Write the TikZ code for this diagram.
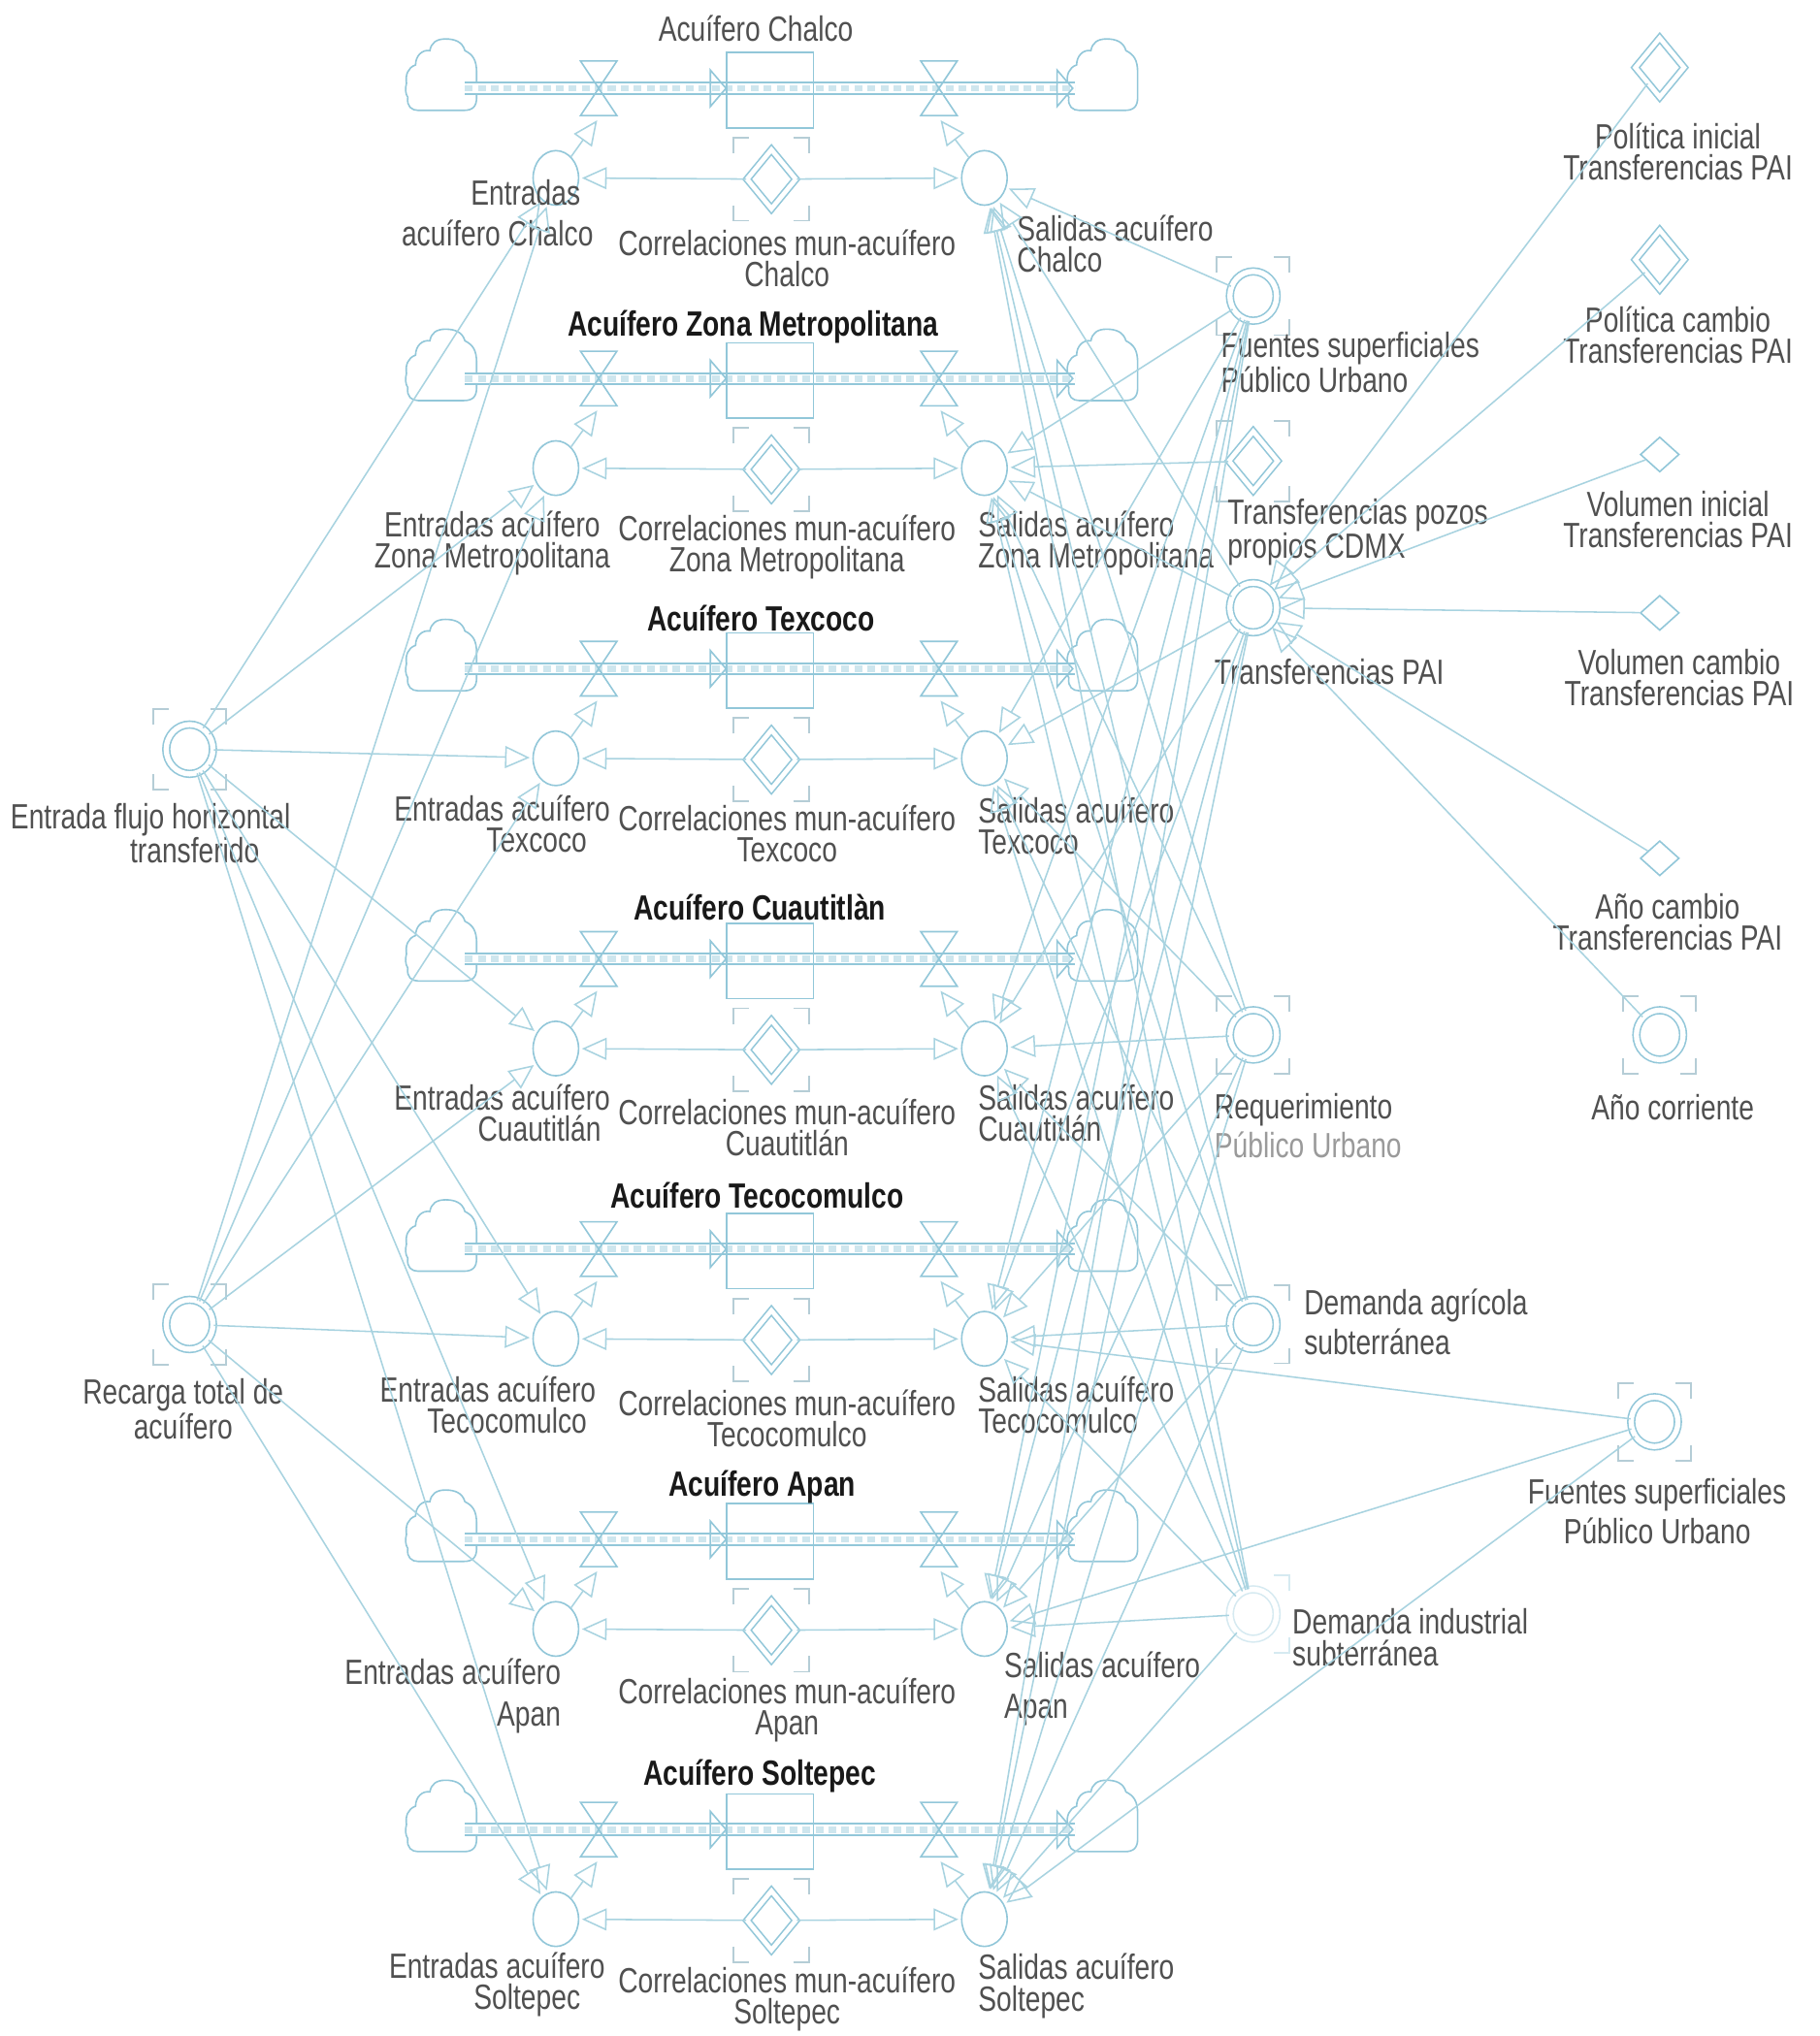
\documentclass[tikz,border=0pt]{standalone}
\usepackage{fontspec}
\setmainfont{Liberation Sans}[FakeStretch=0.78]
\usetikzlibrary{shapes.geometric,arrows.meta,calc}
\definecolor{lc}{HTML}{A8D3E0}
\definecolor{pc}{HTML}{92C7D9}
\definecolor{bc}{HTML}{B5CDD6}
\definecolor{tc}{HTML}{505050}
\definecolor{lt}{HTML}{9A9A9A}
\definecolor{fd}{HTML}{D6EAF1}
\newcommand{\cornerbox}[4]{%
 \draw[bc,line width=1.3pt] (#1-#3,#2-#4+12) -- (#1-#3,#2-#4) -- (#1-#3+12,#2-#4);
 \draw[bc,line width=1.3pt] (#1+#3-12,#2-#4) -- (#1+#3,#2-#4) -- (#1+#3,#2-#4+12);
 \draw[bc,line width=1.3pt] (#1-#3,#2+#4-12) -- (#1-#3,#2+#4) -- (#1-#3+12,#2+#4);
 \draw[bc,line width=1.3pt] (#1+#3-12,#2+#4) -- (#1+#3,#2+#4) -- (#1+#3,#2+#4-12);}
\tikzset{
 link/.style={draw=lc, line width=1.15pt, shorten >=2pt, -{Triangle[open,length=19pt,width=17pt]}},
 aux/.style={ellipse, draw=pc, line width=1.2pt, minimum width=35pt, minimum height=42pt, inner sep=0pt},
 conv/.style={ellipse, draw=pc, line width=1.2pt, double=white, double distance=4pt, minimum width=36pt, minimum height=38pt, inner sep=0pt},
 cdiam/.style={diamond, draw=pc, line width=1.2pt, double=white, double distance=3.5pt, minimum width=38pt, minimum height=46pt, inner sep=0pt},
 sdiam/.style={diamond, draw=pc, line width=1.2pt, minimum width=30pt, minimum height=27pt, inner sep=0pt},
 stockbox/.style={rectangle, draw=pc, line width=1.2pt, minimum width=67pt, minimum height=58pt, inner sep=0pt},
 shp/.style={draw=pc, line width=1.2pt, line join=miter},
 pipeout/.style={draw=pc, line width=10pt},
 pipemid/.style={draw=white, line width=7pt},
 pipein/.style={draw=pc!45, line width=5pt, dash pattern=on 6pt off 4pt},
 lbl/.style={text=tc, font=\fontsize{27}{24}\selectfont, inner sep=0pt},
 ttl/.style={text=black!90, font=\bfseries\fontsize{27}{24}\selectfont, inner sep=0pt},
 ttlr/.style={text=tc, font=\fontsize{27}{24}\selectfont, inner sep=0pt},
 cloudpic/.pic={\draw[pc, line width=1.2pt] (-18,27) -- (17,27) .. controls (24,27) and (27,24) .. (27,17) -- (27,-2) .. controls (27,-12) and (24,-16) .. (18,-19) .. controls (16,-26) and (10,-28) .. (3,-28) .. controls (-4,-28) and (-8,-25) .. (-9,-19) .. controls (-15,-20) and (-20,-15) .. (-20,-8) .. controls (-26,-6) and (-28,0) .. (-27,6) .. controls (-28,10) and (-28,14) .. (-26,17) .. controls (-27,24) and (-23,27) .. (-18,27) -- cycle;},
}
\begin{document}
\begin{tikzpicture}[x=1pt,y=-1pt]
\useasboundingbox[fill=white] (0,0) rectangle (1401,1568);

% ---------- aquifer rows ----------
\foreach \i/\y in {0/68,1/291.5,2/515,3/738.5,4/962,5/1185.5,6/1409}{
 \pic (CL\i) at (340,\y-10) {cloudpic};
 \pic (CR\i) at (849,\y-10) {cloudpic};
 \coordinate (PL\i) at (358,\y);
 \coordinate (PR\i) at (828,\y);
 \draw[pipeout] (PL\i) -- (PR\i);
 \draw[pipemid] (PL\i) -- (PR\i);
 \draw[pipein] (PL\i) -- (PR\i);
 \node[stockbox] (K\i) at (593,\y+1.5) {};
 \coordinate (VL\i) at (461,\y);
 \coordinate (VR\i) at (723,\y);
 \draw[shp] ($(VL\i)+(-14,-21)$) -- ($(VL\i)+(14,-21)$) -- ($(VL\i)+(-14,21)$) -- ($(VL\i)+(14,21)$) -- cycle;
 \draw[shp] ($(VR\i)+(-14,-21)$) -- ($(VR\i)+(14,-21)$) -- ($(VR\i)+(-14,21)$) -- ($(VR\i)+(14,21)$) -- cycle;
 \draw[shp] (547,\y-14) -- (559,\y) -- (547,\y+14) -- cycle;
 \draw[shp] (814,\y-14) -- (826,\y) -- (814,\y+14) -- cycle;
 \coordinate (VLb\i) at (461,\y+23);
 \coordinate (VRb\i) at (723,\y+23);
 \node[aux] (E\i) at (428,\y+69) {};
 \node[aux] (S\i) at (758,\y+69) {};
 \node[cdiam] (C\i) at (594,\y+70) {};
 \cornerbox{594}{\y+70}{29}{32}
 \draw[link] (C\i) -- (E\i);
 \draw[link] (C\i) -- (S\i);
 \draw[link] (E\i) -- (VLb\i);
 \draw[link] (S\i) -- (VRb\i);
}

% ---------- row labels ----------
\node[ttlr] (T0) at (582,22) {Acuífero Chalco};
\node[ttl] (T1) at (580,252) {Acuífero Zona Metropolitana};
\node[ttl] (T2) at (586,476) {Acuífero Texcoco};
\node[ttl] (T3) at (585,699) {Acuífero Cuautitlàn};
\node[ttl] (T4) at (583,921) {Acuífero Tecocomulco};
\node[ttl] (T5) at (587,1145) {Acuífero Apan};
\node[ttl] (T6) at (585,1368) {Acuífero Soltepec};

\node[lbl, align=right, anchor=east] (LE0) at (457,164) {Entradas\hspace*{10pt}\\[8pt]acuífero Chalco};
\node[lbl, align=center] (LE1) at (379,418.5) {Entradas acuífero\\Zona Metropolitana};
\node[lbl, align=right, anchor=east] (LE2) at (470,634.5) {Entradas acuífero\\Texcoco\hspace*{18pt}};
\node[lbl, align=right, anchor=east] (LE3) at (470,857) {Entradas acuífero\\Cuautitlán\hspace*{7pt}};
\node[lbl, align=right, anchor=east] (LE4) at (459,1082) {Entradas acuífero\\Tecocomulco\hspace*{7pt}};
\node[lbl, align=right, anchor=east] (LE5) at (432,1306) {Entradas acuífero\\[8pt]Apan};
\node[lbl, align=right, anchor=east] (LE6) at (466,1528.5) {Entradas acuífero\\Soltepec\hspace*{19pt}};

\node[lbl, align=center] (LC0) at (606,199) {Correlaciones mun-acuífero\\Chalco};
\node[lbl, align=center] (LC1) at (606,421.5) {Correlaciones mun-acuífero\\Zona Metropolitana};
\node[lbl, align=center] (LC2) at (606,642) {Correlaciones mun-acuífero\\Texcoco};
\node[lbl, align=center] (LC3) at (606,868) {Correlaciones mun-acuífero\\Cuautitlán};
\node[lbl, align=center] (LC4) at (606,1092.5) {Correlaciones mun-acuífero\\Tecocomulco};
\node[lbl, align=center] (LC5) at (606,1317) {Correlaciones mun-acuífero\\Apan};
\node[lbl, align=center] (LC6) at (606,1539.5) {Correlaciones mun-acuífero\\Soltepec};

\node[lbl, align=left, anchor=west] (LS0) at (783,188) {Salidas acuífero\\Chalco};
\node[lbl, align=left, anchor=west] (LS1) at (753,418) {Salidas acuífero\\Zona Metropolitana};
\node[lbl, align=left, anchor=west] (LS2) at (753,636) {Salidas acuífero\\Texcoco};
\node[lbl, align=left, anchor=west] (LS3) at (753,857) {Salidas acuífero\\Cuautitlán};
\node[lbl, align=left, anchor=west] (LS4) at (753,1082) {Salidas acuífero\\Tecocomulco};
\node[lbl, align=left, anchor=west] (LS5) at (773,1300.5) {Salidas acuífero\\[7pt]Apan};
\node[lbl, align=left, anchor=west] (LS6) at (753,1529.5) {Salidas acuífero\\Soltepec};

% ---------- left converters ----------
\node[conv] (EF) at (146,577) {};
\cornerbox{146}{577}{28}{31}
\node[lbl, align=left, anchor=west] (LEF) at (8,642) {Entrada flujo horizontal\\\hspace*{92pt}transferido};
\node[conv] (RT) at (146,1020) {};
\cornerbox{146}{1020}{28}{31}
\node[lbl, align=center] (LRT) at (141,1085) {Recarga total de\\acuífero};

% ---------- right nodes ----------
\node[conv] (FS1) at (965,228) {};
\cornerbox{965}{228}{28}{30}
\node[lbl, align=left, anchor=west] (LFS1) at (940,279) {Fuentes superficiales\\Público Urbano};
\node[cdiam] (TP) at (965,355) {};
\cornerbox{965}{355}{28}{31}
\node[lbl, align=left, anchor=west] (LTP) at (945,410) {Transferencias pozos\\propios CDMX};
\node[conv] (TPAI) at (965,468) {};
\node[lbl, anchor=west] (LTPAI) at (935,517) {Transferencias PAI};
\node[conv] (RQ) at (965,797) {};
\cornerbox{965}{797}{28}{30}
\node[lbl, align=left, anchor=west] (LRQ) at (935,867) {Requerimiento\\[4pt]\textcolor{lt}{Público Urbano}};
\node[conv] (DA) at (965,1020) {};
\cornerbox{965}{1020}{28}{30}
\node[lbl, align=left, anchor=west] (LDA) at (1004,1018) {Demanda agrícola\\[4pt]subterránea};
\node[conv, draw=fd] (DI) at (965,1243) {};
\draw[fd, line width=1.3pt] (965+16,1243-30) -- (965+28,1243-30) -- (965+28,1243-18);
\draw[fd, line width=1.3pt] (965+16,1243+30) -- (965+28,1243+30) -- (965+28,1243+18);
\node[lbl, align=left, anchor=west] (LDI) at (995,1261) {Demanda industrial\\subterránea};
\node[conv] (FS2) at (1274,1095) {};
\cornerbox{1274}{1095}{28}{30}
\node[lbl, align=center] (LFS2) at (1276,1164) {Fuentes superficiales\\[4pt]Público Urbano};

\node[cdiam] (PI) at (1278,52) {};
\node[lbl, align=center] (LPI) at (1292,117) {Política inicial\\Transferencias PAI};
\node[cdiam] (PC) at (1278,200) {};
\node[lbl, align=center] (LPC) at (1292,258) {Política cambio\\Transferencias PAI};
\node[sdiam] (VI) at (1278,350) {};
\node[lbl, align=center] (LVI) at (1292,400) {Volumen inicial\\Transferencias PAI};
\node[sdiam] (VC) at (1278,472) {};
\node[lbl, align=center] (LVC) at (1293,522) {Volumen cambio\\Transferencias PAI};
\node[sdiam] (AC) at (1278,661) {};
\node[lbl, align=center] (LAC) at (1284,710) {Año cambio\\Transferencias PAI};
\node[conv] (AY) at (1278,797) {};
\cornerbox{1278}{797}{28}{30}
\node[lbl] (LAY) at (1288,853) {Año corriente};

% ---------- links ----------
\foreach \i in {0,...,6}{
 \draw[link] (EF) -- (E\i);
 \draw[link] (RT) -- (E\i);
 \draw[link] (FS1) -- (S\i);
 \draw[link] (TPAI) -- (S\i);
 \draw[link] (RQ) -- (S\i);
 \draw[link] (DA) -- (S\i);
 \draw[link] (DI) -- (S\i);
}
\draw[link] (TP) -- (S1);
\foreach \i in {4,5,6}{\draw[link] (FS2) -- (S\i);}
\foreach \n in {PI,PC,VI,VC,AC,AY}{\draw[link] (\n) -- (TPAI);}
\end{tikzpicture}
\end{document}
